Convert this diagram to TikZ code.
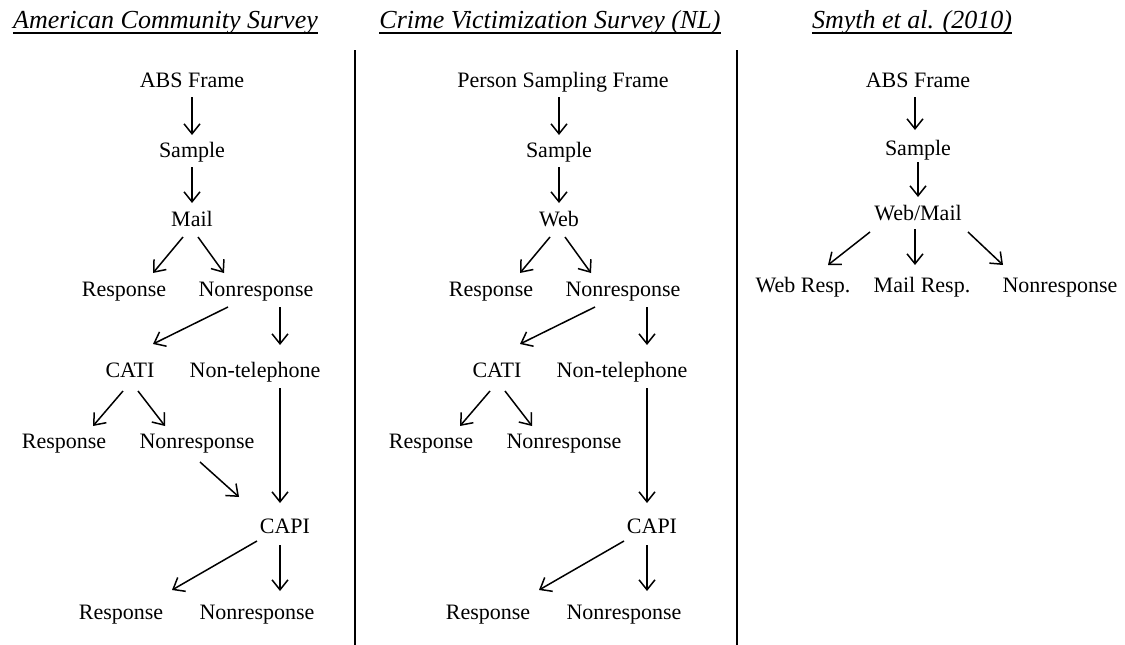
\documentclass[tikz,border=0pt]{standalone}
\usepackage{fontspec}
\setmainfont{Liberation Serif}
\usetikzlibrary{arrows.meta}
\begin{document}
\begin{tikzpicture}[x=1pt,y=-1pt,
  lbl/.style={inner sep=0pt, anchor=base, font=\fontsize{22}{26}\selectfont},
  ttl/.style={inner sep=0pt, anchor=base, font=\fontsize{26}{30}\selectfont\itshape},
  arr/.style={line width=1.5pt, -{Straight Barb[length=10pt,width=16pt,line width=1.5pt]}},
  sep/.style={line width=1.5pt},
  uline/.style={line width=1.3pt}]
\useasboundingbox (0,0) rectangle (1125,645);

% titles
\node[ttl] (t1) at (165.5,28) {American Community Survey};
\node[ttl] (t2) at (550,28) {Crime Victimization Survey (NL)};
\node[ttl] (t3) at (912,28) {Smyth et al. (2010)};
\foreach \t in {t1,t2,t3}
  \draw[uline] ([yshift=-5pt]\t.base west) -- ([yshift=-5pt]\t.base east);

% separators
\coordinate (s1t) at (355,50); \coordinate (s1b) at (355,645);
\coordinate (s2t) at (737,50); \coordinate (s2b) at (737,645);
\draw[sep] (s1t) -- (s1b);
\draw[sep] (s2t) -- (s2b);

% ---------------- column 1
\node[lbl] (A1) at (192,87) {ABS Frame};
\node[lbl] (S1) at (192,157) {Sample};
\node[lbl] (M1) at (192,226) {Mail};
\node[lbl] (R1) at (124,296) {Response};
\node[lbl] (N1) at (256,296) {Nonresponse};
\node[lbl] (C1) at (130,377) {CATI};
\node[lbl] (T1) at (255,377) {Non-telephone};
\node[lbl] (R2) at (64,448) {Response};
\node[lbl] (N2) at (197,448) {Nonresponse};
\node[lbl] (P1) at (285,533) {CAPI};
\node[lbl] (R3) at (121,619) {Response};
\node[lbl] (N3) at (257,619) {Nonresponse};

\draw[arr] ([shift={(0,10)}]A1.base) -- ([shift={(0,-22)}]S1.base);
\draw[arr] ([shift={(0,10)}]S1.base) -- ([shift={(0,-23)}]M1.base);
\draw[arr] ([shift={(-9,11)}]M1.base) -- ([shift={(29,-23)}]R1.base);
\draw[arr] ([shift={(6,11)}]M1.base) -- ([shift={(-32,-23)}]N1.base);
\draw[arr] ([shift={(-28,11)}]N1.base) -- ([shift={(23,-33)}]C1.base);
\draw[arr] ([shift={(24,11)}]N1.base) -- ([shift={(25,-32)}]T1.base);
\draw[arr] ([shift={(-7,14)}]C1.base) -- ([shift={(29,-22)}]R2.base);
\draw[arr] ([shift={(8,14)}]C1.base) -- ([shift={(-32,-22)}]N2.base);
\draw[arr] ([shift={(3,14)}]N2.base) -- ([shift={(-46,-36)}]P1.base);
\draw[arr] ([shift={(25,11)}]T1.base) -- ([shift={(-5,-30)}]P1.base);
\draw[arr] ([shift={(-28,8)}]P1.base) -- ([shift={(51,-29)}]R3.base);
\draw[arr] ([shift={(-5,12)}]P1.base) -- ([shift={(23,-28)}]N3.base);

% ---------------- column 2
\node[lbl] (A2) at (563,87) {Person Sampling Frame};
\node[lbl] (S2) at (559,157) {Sample};
\node[lbl] (M2) at (559,226) {Web};
\node[lbl] (R4) at (491,296) {Response};
\node[lbl] (N4) at (623,296) {Nonresponse};
\node[lbl] (C2) at (497,377) {CATI};
\node[lbl] (T2) at (622,377) {Non-telephone};
\node[lbl] (R5) at (431,448) {Response};
\node[lbl] (N5) at (564,448) {Nonresponse};
\node[lbl] (P2) at (652,533) {CAPI};
\node[lbl] (R6) at (488,619) {Response};
\node[lbl] (N6) at (624,619) {Nonresponse};

\draw[arr] ([shift={(-4,10)}]A2.base) -- ([shift={(0,-22)}]S2.base);
\draw[arr] ([shift={(0,10)}]S2.base) -- ([shift={(0,-23)}]M2.base);
\draw[arr] ([shift={(-9,11)}]M2.base) -- ([shift={(29,-23)}]R4.base);
\draw[arr] ([shift={(6,11)}]M2.base) -- ([shift={(-32,-23)}]N4.base);
\draw[arr] ([shift={(-28,11)}]N4.base) -- ([shift={(23,-33)}]C2.base);
\draw[arr] ([shift={(24,11)}]N4.base) -- ([shift={(25,-32)}]T2.base);
\draw[arr] ([shift={(-7,14)}]C2.base) -- ([shift={(29,-22)}]R5.base);
\draw[arr] ([shift={(8,14)}]C2.base) -- ([shift={(-32,-22)}]N5.base);
\draw[arr] ([shift={(25,11)}]T2.base) -- ([shift={(-5,-30)}]P2.base);
\draw[arr] ([shift={(-28,8)}]P2.base) -- ([shift={(51,-29)}]R6.base);
\draw[arr] ([shift={(-5,12)}]P2.base) -- ([shift={(23,-28)}]N6.base);

% ---------------- column 3
\node[lbl] (A3) at (918,87) {ABS Frame};
\node[lbl] (S3) at (918,155) {Sample};
\node[lbl] (W3) at (918,220) {Web/Mail};
\node[lbl] (WR) at (803,292) {Web Resp.};
\node[lbl] (MR) at (922,292) {Mail Resp.};
\node[lbl] (NR) at (1060,292) {Nonresponse};

\draw[arr] ([shift={(-3,10)}]A3.base) -- ([shift={(-3,-25)}]S3.base);
\draw[arr] ([shift={(0,7)}]S3.base) -- ([shift={(0,-23)}]W3.base);
\draw[arr] ([shift={(-48,12)}]W3.base) -- ([shift={(25,-27)}]WR.base);
\draw[arr] ([shift={(-3,9)}]W3.base) -- ([shift={(-7,-27)}]MR.base);
\draw[arr] ([shift={(50,12)}]W3.base) -- ([shift={(-57,-27)}]NR.base);
\end{tikzpicture}
\end{document}
